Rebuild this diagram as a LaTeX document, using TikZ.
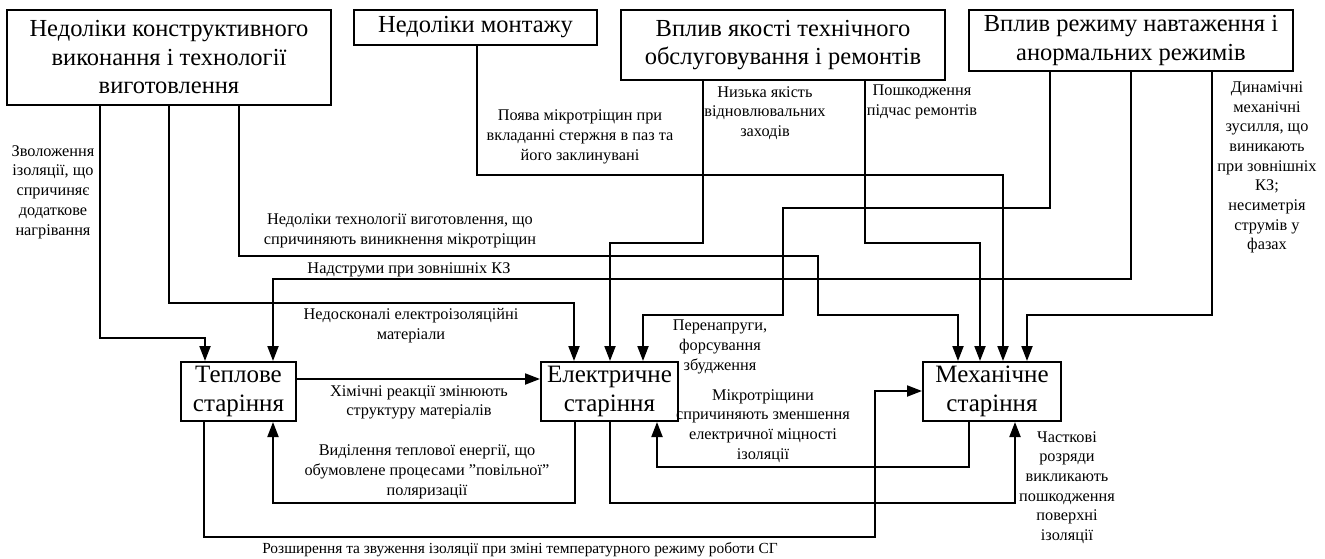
\documentclass[tikz,border=0pt]{standalone}
\usepackage{fontspec}
\setmainfont{Liberation Serif}
\usetikzlibrary{arrows.meta}
\begin{document}
\begin{tikzpicture}[x=1pt,y=-1pt,
  box/.style={draw,line width=2pt,align=center,inner sep=0pt,font=\fontsize{24.5}{28.5}\selectfont},
  bbox/.style={draw,line width=2pt,align=center,inner sep=0pt,minimum height=59pt,font=\fontsize{25}{29.5}\selectfont},
  lab/.style={align=center,inner sep=0pt,font=\fontsize{16.3}{19.7}\selectfont},
  arr/.style={line width=2pt,-{Triangle[length=15pt,width=11pt]}},
  ln/.style={line width=2pt}]
\useasboundingbox (0,0) rectangle (1325,559);
% top boxes
\node[box,minimum width=324pt,minimum height=95pt] (A) at (169,57.5) {Недоліки конструктивного\\виконання і технології\\виготовлення};
\node[box,minimum width=243pt,minimum height=35pt] (B) at (475.5,27.5) {Недоліки монтажу};
\node[box,minimum width=324pt,minimum height=70pt] (C) at (783,45) {Вплив якості технічного\\обслуговування і ремонтів};
\node[box,minimum width=324pt,minimum height=61pt] (D) at (1131,40.5) {Вплив режиму навтаження і\\анормальних режимів};
% bottom boxes
\node[bbox,minimum width=115pt] (T) at (238.5,391.5) {Теплове\\старіння};
\node[bbox,minimum width=137pt] (E) at (609.5,391.5) {Електричне\\старіння};
\node[bbox,minimum width=138pt] (M) at (992,391.5) {Механічне\\старіння};
% connectors from top boxes
\draw[arr] (A.south -| 100,0) |- (205,338) -- (T.north -| 205,0);
\draw[arr] (A.south -| 169,0) |- (574,303) -- (E.north -| 574,0);
\draw[arr] (A.south -| 239,0) |- (818,256) |- (958,315) -- (M.north -| 958,0);
\draw[arr] (B.south -| 477,0) |- (1003,175) -- (M.north -| 1003,0);
\draw[arr] (C.south -| 703,0) |- (610,243) -- (E.north -| 610,0);
\draw[arr] (C.south -| 865,0) |- (980,243) -- (M.north -| 980,0);
\draw[arr] (D.south -| 1050,0) |- (783,208) |- (643,315) -- (E.north -| 643,0);
\draw[arr] (D.south -| 1131,0) |- (273,279) -- (T.north -| 273,0);
\draw[arr] (D.south -| 1212,0) |- (1027,315) -- (M.north -| 1027,0);
% connectors between bottom boxes
\draw[arr] (T.east |- 0,379) -- (E.west |- 0,379);
\draw[arr] (E.south -| 575,0) |- (273,503) -- (T.south -| 273,0);
\draw[arr] (T.south -| 204,0) |- (875,537) |- (M.west |- 0,391);
\draw[arr] (M.south -| 969,0) |- (657,467) -- (E.south -| 657,0);
\draw[arr] (E.south -| 610,0) |- (1015,503) -- (M.south -| 1015,0);
% labels
\node[lab] (l1) at (53,192) {Зволоження\\ізоляції, що\\спричиняє\\додаткове\\нагрівання};
\node[lab] (l2) at (580,137) {Поява мікротріщин при\\вкладанні стержня в паз та\\його заклинувані};
\node[lab] (l3) at (765,113) {Низька якість\\відновлювальних\\заходів};
\node[lab] (l4) at (922,102) {Пошкодження\\підчас ремонтів};
\node[lab] (l5) at (1267,167.5) {Динамічні\\механічні\\зусилля, що\\виникають\\при зовнішніх\\КЗ;\\несиметрія\\струмів у\\фазах};
\node[lab] (l6) at (400,231) {Недоліки технології виготовлення, що\\спричиняють виникнення мікротріщин};
\node[lab] (l7) at (409,270) {Надструми при зовнішніх КЗ};
\node[lab] (l8) at (411,326) {Недосконалі електроізоляційні\\матеріали};
\node[lab] (l9) at (720,347) {Перенапруги,\\форсування\\збудження};
\node[lab] (l10) at (419,402.5) {Хімічні реакції змінюють\\структуру матеріалів};
\node[lab] (l11) at (427,472) {Виділення теплової енергії, що\\обумовлене процесами ”повільної”\\поляризації};
\node[lab,font=\fontsize{15.4}{19}\selectfont] (l12) at (520,550) {Розширення та звуження ізоляції при зміні температурного режиму роботи СГ};
\node[lab] (l13) at (763,426) {Мікротріщини\\спричиняють зменшення\\електричної міцності\\ізоляції};
\node[lab] (l14) at (1067,487.5) {Часткові\\розряди\\викликають\\пошкодження\\поверхні\\ізоляції};
\end{tikzpicture}
\end{document}
